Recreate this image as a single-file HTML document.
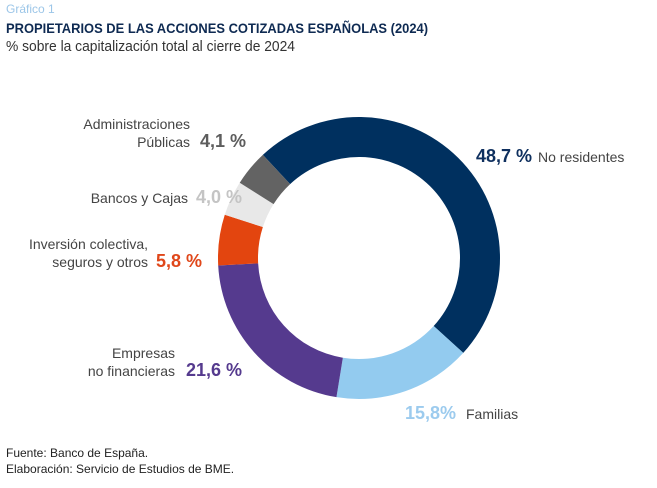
<!DOCTYPE html>
<html><head><meta charset="utf-8"><style>
body{margin:0;background:#fff}
svg{display:block;font-family:"Liberation Sans Narrow","Liberation Sans",sans-serif}
</style></head><body>
<svg id="c" width="657" height="488" viewBox="0 0 657 488">
<text x="6" y="13" font-size="12" fill="#9cc6e8">Gráfico 1</text>
<text x="6" y="33" font-size="14" font-weight="bold" fill="#0e2a52" textLength="422" lengthAdjust="spacingAndGlyphs">PROPIETARIOS DE LAS ACCIONES COTIZADAS ESPAÑOLAS (2024)</text>
<text x="6" y="51" font-size="15" fill="#333" textLength="289" lengthAdjust="spacingAndGlyphs">% sobre la capitalización total al cierre de 2024</text>
<g id="slices"></g>
<g font-size="14" fill="#444" text-anchor="end">
<text x="190" y="129">Administraciones</text>
<text x="190" y="147">Públicas</text>
<text x="188" y="203">Bancos y Cajas</text>
<text x="148" y="249">Inversión colectiva,</text>
<text x="148" y="267">seguros y otros</text>
<text x="175" y="358">Empresas</text>
<text x="175" y="376">no financieras</text>
</g>
<g font-size="18" font-weight="bold">
<text x="200" y="147" fill="#5d5d5d">4,1 %</text>
<text x="196" y="203" fill="#c4c4c4">4,0 %</text>
<text x="156" y="267" fill="#e0471a">5,8 %</text>
<text x="186" y="376" fill="#553a8e">21,6 %</text>
<text x="476" y="162" fill="#0e2f5e">48,7 %</text>
<text x="405" y="419" fill="#9ccbee">15,8%</text>
</g>
<text x="538" y="162" font-size="14" fill="#444">No residentes</text>
<text x="466" y="419" font-size="14" fill="#444">Familias</text>
<text x="6" y="457" font-size="12" fill="#222">Fuente: Banco de España.</text>
<text x="6" y="473" font-size="12" fill="#222">Elaboración: Servicio de Estudios de BME.</text>
</svg>
<script>
const categories=["No residentes","Familias","Empresas no financieras","Inversión colectiva","Bancos y Cajas","Administraciones Públicas"];
const values=[48.7,15.8,21.6,5.8,4.0,4.1];
const colors=["#00305f","#93cbef","#553a8e","#e3450f","#e8e8e8","#636363"];
const cx=359,cy=258,R=141,r=101,start=-43;
const g=document.getElementById('slices');
const total=values.reduce((a,b)=>a+b,0);
function pt(a,rad){const t=a*Math.PI/180;return [cx+rad*Math.sin(t),cy-rad*Math.cos(t)];}
let a=start;
values.forEach((v,i)=>{
  const sweep=v/total*360,b=a+sweep,l=sweep>180?1:0;
  const p1=pt(a,R),p2=pt(b,R),p3=pt(b,r),p4=pt(a,r);
  const p=document.createElementNS('http://www.w3.org/2000/svg','path');
  p.setAttribute('d',`M${p1}A${R},${R} 0 ${l} 1 ${p2}L${p3}A${r},${r} 0 ${l} 0 ${p4}Z`);
  p.setAttribute('fill',colors[i]);
  
  
  g.appendChild(p);
  a=b;
});
</script>
</body></html>
